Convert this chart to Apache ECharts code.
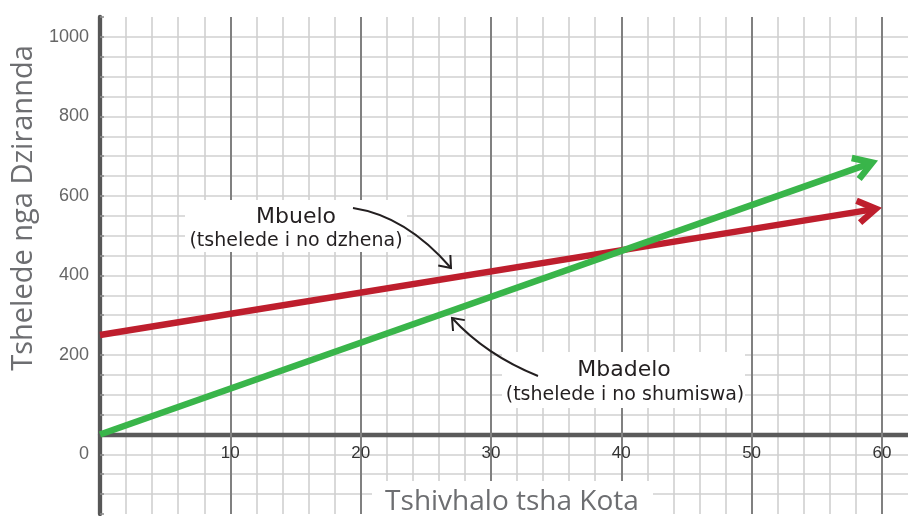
<!DOCTYPE html>
<html><head><meta charset="utf-8">
<script src="https://cdn.jsdelivr.net/npm/echarts@6/dist/echarts.min.js"></script>
<style>html,body{margin:0;padding:0;background:#fff}#c{width:908px;height:516px}</style>
</head><body><div id="c"></div>
<script>
// ---- data ----
const xTickLabels = [10, 20, 30, 40, 50, 60];
const yTickLabels = [0, 200, 400, 600, 800, 1000];
const revenueX = [0, 60];      // Mbuelo
const revenueY = [250, 570];
const costX = [0, 59.7];       // Mbadelo
const costY = [0, 689];
const seriesNames = ['Mbuelo', 'Mbadelo'];
const seriesNotes = ['(tshelede i no dzhena)', '(tshelede i no shumiswa)'];
const xTitle = 'Tshivhalo tsha Kota';
const yTitle = 'Tshelede nga Dzirannda';

const RED = '#be1e2d', GREEN = '#39b54a', INK = '#231f20', TITLE = '#6d6e71';

const chart = echarts.init(document.getElementById('c'));

function rot(x, y, a) { return [x * Math.cos(a) - y * Math.sin(a), x * Math.sin(a) + y * Math.cos(a)]; }

function arrowItem(color) {
  return function (params, api) {
    const p0 = api.coord([api.value(0), api.value(1)]);
    const p1 = api.coord([api.value(2), api.value(3)]);
    const w = 6.5, L = 21, half = 32 * Math.PI / 180;
    let dx = p1[0] - p0[0], dy = p1[1] - p0[1];
    const len = Math.hypot(dx, dy); dx /= len; dy /= len;
    const ext = (w / 2) / Math.sin(half);
    const ax = p1[0] - dx * ext, ay = p1[1] - dy * ext;
    const b1 = rot(-dx, -dy, half), b2 = rot(-dx, -dy, -half);
    return {
      type: 'group', children: [
        { type: 'polyline', shape: { points: [p0, [ax, ay]] },
          style: { stroke: color, lineWidth: w, fill: null, lineCap: 'butt' } },
        { type: 'polyline', shape: { points: [[ax + b1[0] * L, ay + b1[1] * L], [ax, ay], [ax + b2[0] * L, ay + b2[1] * L]] },
          style: { stroke: color, lineWidth: w, fill: null, lineJoin: 'miter', lineCap: 'butt' } }
      ]
    };
  };
}

function xLabelItem(params, api) {
  const p = api.coord([api.value(0), 0]);
  return { type: 'text', x: p[0], y: p[1] + 19,
    style: { text: String(api.value(0)), font: '17px "Liberation Sans"', fill: '#333', textAlign: 'center', textVerticalAlign: 'middle' } };
}

function curvedArrow(p0, c, p2) {
  let dx = p2[0] - c[0], dy = p2[1] - c[1];
  const len = Math.hypot(dx, dy); dx /= len; dy /= len;
  const half = 38 * Math.PI / 180, L = 13;
  const b1 = rot(-dx, -dy, half), b2 = rot(-dx, -dy, -half);
  return [
    { type: 'bezierCurve', z: 120,
      shape: { x1: p0[0], y1: p0[1], cpx1: c[0], cpy1: c[1], x2: p2[0], y2: p2[1] },
      style: { stroke: INK, lineWidth: 2, fill: null } },
    { type: 'polyline', z: 120,
      shape: { points: [[p2[0] + b1[0] * L, p2[1] + b1[1] * L], p2, [p2[0] + b2[0] * L, p2[1] + b2[1] * L]] },
      style: { stroke: INK, lineWidth: 2, fill: null, lineJoin: 'miter' } }
  ];
}

const option = {
  backgroundColor: '#fff',
  animation: false,
  grid: { left: 100, right: 0, top: 17, bottom: 2, containLabel: false, outerBoundsMode: 'none' },
  xAxis: [
    { type: 'value', min: 0, max: 62, interval: 2, z: 1,
      axisLine: { show: true, onZero: true, lineStyle: { color: '#5a5a5a', width: 4.3 } },
      axisTick: { show: false },
      axisLabel: { show: false },
      splitLine: { show: true, showMinLine: false, showMaxLine: false, lineStyle: { color: '#d0d0d0', width: 1.6 } } },
    { type: 'value', min: 0, max: 62, interval: 10, z: 2, position: 'top',
      axisLine: { show: false }, axisTick: { show: false }, axisLabel: { show: false },
      splitLine: { show: true, showMinLine: false, showMaxLine: false, lineStyle: { color: '#808080', width: 2 } } }
  ],
  yAxis: {
    type: 'value', min: -200, max: 1050, interval: 50, z: 0,
    axisLine: { show: true, onZero: false, lineStyle: { color: '#575757', width: 4.3 } },
    axisTick: { show: true, inside: true, length: 4, lineStyle: { color: '#8a8a8a', width: 1.5 } },
    axisLabel: {
      margin: 11, color: '#666', fontSize: 18, fontFamily: 'Liberation Sans',
      formatter: v => (v === 0 ? '{z|0}' : (yTickLabels.indexOf(v) >= 0 ? String(v) : '')),
      rich: { z: { padding: [40, 0, 0, 0], color: '#666', fontSize: 18, fontFamily: 'Liberation Sans' } }
    },
    splitLine: { show: true, showMinLine: false, showMaxLine: false, lineStyle: { color: '#d0d0d0', width: 1.6 } }
  },
  series: [
    { name: seriesNames[0], type: 'custom', z: 5, clip: false,
      renderItem: arrowItem(RED), encode: { x: [0, 2], y: [1, 3] },
      data: [[revenueX[0], revenueY[0], revenueX[1], revenueY[1]]] },
    { name: seriesNames[1], type: 'custom', z: 6, clip: false,
      renderItem: arrowItem(GREEN), encode: { x: [0, 2], y: [1, 3] },
      data: [[costX[0], costY[0], costX[1], costY[1]]] },
    { name: 'xLabels', type: 'custom', z: 4, clip: false, silent: true,
      renderItem: xLabelItem, encode: { x: 0 },
      data: xTickLabels.map(v => [v]) }
  ],
  graphic: [
    // annotation boxes
    { type: 'rect', z: 100, shape: { x: 185, y: 200, width: 222, height: 52 }, style: { fill: '#fff' } },
    { type: 'text', z: 110, x: 296, y: 217, style: { text: seriesNames[0], font: '22px "DejaVu Sans"', fill: INK, textAlign: 'center', textVerticalAlign: 'middle' } },
    { type: 'text', z: 110, x: 296, y: 241, style: { text: seriesNotes[0], font: '19px "DejaVu Sans"', fill: INK, textAlign: 'center', textVerticalAlign: 'middle' } },
    { type: 'rect', z: 100, shape: { x: 502, y: 352, width: 243, height: 56 }, style: { fill: '#fff' } },
    { type: 'text', z: 110, x: 624, y: 370, style: { text: seriesNames[1], font: '22px "DejaVu Sans"', fill: INK, textAlign: 'center', textVerticalAlign: 'middle' } },
    { type: 'text', z: 110, x: 625, y: 395, style: { text: seriesNotes[1], font: '19px "DejaVu Sans"', fill: INK, textAlign: 'center', textVerticalAlign: 'middle' } },
    ...curvedArrow([353, 208], [406, 216], [451, 268]),
    ...curvedArrow([538, 376], [486, 355], [452, 318]),
    // axis titles
    { type: 'rect', z: 100, shape: { x: 372, y: 481, width: 281, height: 40 }, style: { fill: '#fff' } },
    { type: 'text', z: 110, x: 512, y: 502, style: { text: xTitle, font: '28px "Open Sans"', fill: TITLE, textAlign: 'center', textVerticalAlign: 'middle' } },
    { type: 'text', z: 110, x: 24, y: 208, rotation: Math.PI / 2, style: { text: yTitle, font: '29px "Open Sans"', fill: TITLE, textAlign: 'center', textVerticalAlign: 'middle' } }
  ]
};
chart.setOption(option);
</script></body></html>
